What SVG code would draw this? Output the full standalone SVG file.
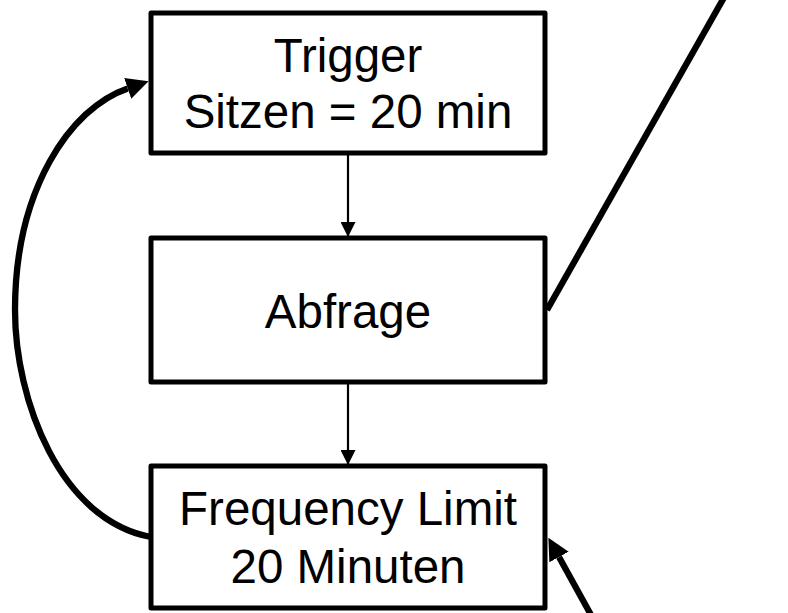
<svg xmlns="http://www.w3.org/2000/svg" width="788" height="613" viewBox="0 0 788 613">
  <style>
    .box { fill: #ffffff; stroke: #000000; stroke-width: 5; stroke-linejoin: round; }
    .lbl { font-family: "Liberation Sans", Arial, sans-serif; font-size: 47.5px; fill: #000000; text-anchor: middle; }
    .thin { fill: none; stroke: #000000; stroke-width: 2.2; }
    .thick { fill: none; stroke: #000000; stroke-width: 6.3; }
  </style>
  <defs>
    <marker id="arrThin" viewBox="0 0 10 10" refX="10" refY="5" markerWidth="15" markerHeight="15" markerUnits="userSpaceOnUse" orient="auto">
      <path d="M0,0 L10,5 L0,10 z" fill="#000000"/>
    </marker>
    <marker id="arrThick" viewBox="0 0 10 10" refX="0" refY="5" markerWidth="22" markerHeight="22" markerUnits="userSpaceOnUse" orient="auto">
      <path d="M0,0 L10,5 L0,10 z" fill="#000000"/>
    </marker>
  </defs>
  <rect width="788" height="613" fill="#ffffff"/>
  <g id="connectors">
    <line class="thin" x1="348" y1="153" x2="348" y2="237" marker-end="url(#arrThin)"/>
    <line class="thin" x1="348" y1="382" x2="348" y2="465" marker-end="url(#arrThin)"/>
    <path class="thick" d="M151,537 C60,520 15,400 15,310 C15,190 70,108 127.7,88.4" marker-end="url(#arrThick)"/>
    <line class="thick" x1="547" y1="310" x2="726" y2="-6"/>
    <line class="thick" x1="596" y1="624" x2="559" y2="557" marker-end="url(#arrThick)"/>
  </g>
  <g id="trigger">
    <rect class="box" x="151" y="13" width="394" height="140"/>
    <text class="lbl" x="348" y="72">Trigger</text>
    <text class="lbl" x="348" y="128">Sitzen = 20 min</text>
  </g>
  <g id="abfrage">
    <rect class="box" x="151" y="238" width="394" height="144"/>
    <text class="lbl" x="348" y="328">Abfrage</text>
  </g>
  <g id="frequency">
    <rect class="box" x="151" y="466" width="394" height="142"/>
    <text class="lbl" x="348" y="525">Frequency Limit</text>
    <text class="lbl" x="348" y="583">20 Minuten</text>
  </g>
</svg>
